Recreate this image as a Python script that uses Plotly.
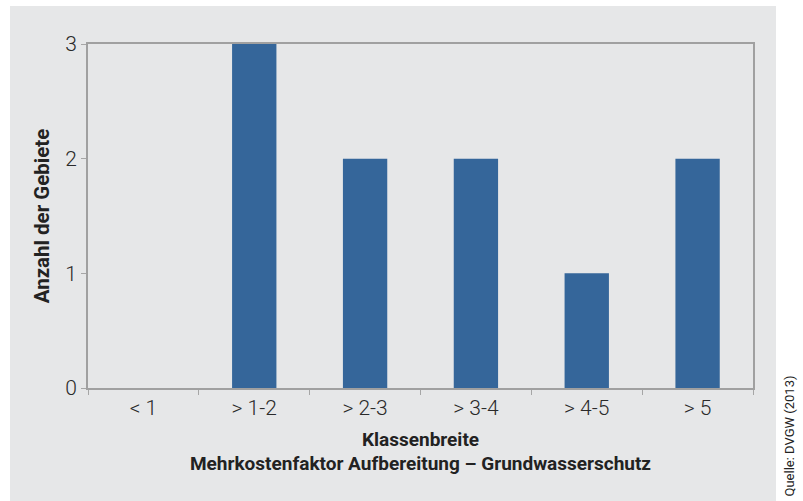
import plotly.graph_objects as go

categories = ["< 1", "> 1-2", "> 2-3", "> 3-4", "> 4-5", "> 5"]
counts = [0, 3, 2, 2, 1, 2]
y_ticks = [0, 1, 2, 3]

W, H = 803, 501
L, R, T, B = 88, 50, 44, 113
pw, ph = W - L - R, H - T - B

def px(x):
    return (x - L) / pw

def py(y):
    return (H - B - y) / ph

fig = go.Figure()
fig.add_trace(go.Bar(
    x=categories, y=counts,
    marker=dict(color="#35669a", line=dict(width=0)),
    width=0.4,
))

font = "Roboto, Arial, sans-serif"

fig.update_layout(
    width=W, height=H,
    margin=dict(l=L, r=R, t=T, b=B),
    paper_bgcolor="white",
    plot_bgcolor="white",
    showlegend=False,
    shapes=[dict(type="rect", xref="paper", yref="paper",
                 x0=px(10), x1=px(776), y0=py(501), y1=py(6),
                 fillcolor="#e6e7e8", line=dict(width=0), layer="below")],
    xaxis=dict(
        type="category",
        tickson="boundaries",
        ticks="outside", ticklen=5, tickcolor="#a6a6a6", tickwidth=1,
        showline=True, linecolor="#a0a0a0", linewidth=2, mirror=True,
        showgrid=False,
        tickfont=dict(family=font, size=21, color="#2a2a2a", weight=300),
        title=dict(text="<b>Klassenbreite</b><br><b>Mehrkostenfaktor Aufbereitung – Grundwasserschutz</b>",
                   font=dict(family=font, size=19, color="#222222"), standoff=13),
        range=[-0.5, 5.5],
    ),
    yaxis=dict(
        range=[0, 3],
        tickvals=y_ticks,
        ticks="outside", ticklen=5, tickcolor="#a6a6a6", tickwidth=1,
        showline=True, linecolor="#a0a0a0", linewidth=2, mirror=True,
        showgrid=False, zeroline=False,
        tickfont=dict(family=font, size=21, color="#2a2a2a", weight=300),
        title=dict(text="<b>Anzahl der Gebiete</b>",
                   font=dict(family=font, size=20.5, color="#222222"), standoff=10),
    ),
    annotations=[dict(
        text="Quelle: DVGW (2013)", textangle=-90,
        xref="paper", yref="paper", x=px(789), y=py(499),
        showarrow=False, xanchor="center", yanchor="bottom",
        font=dict(family=font, size=13, color="#222222"),
    )],
)

fig.write_html("out.html")
